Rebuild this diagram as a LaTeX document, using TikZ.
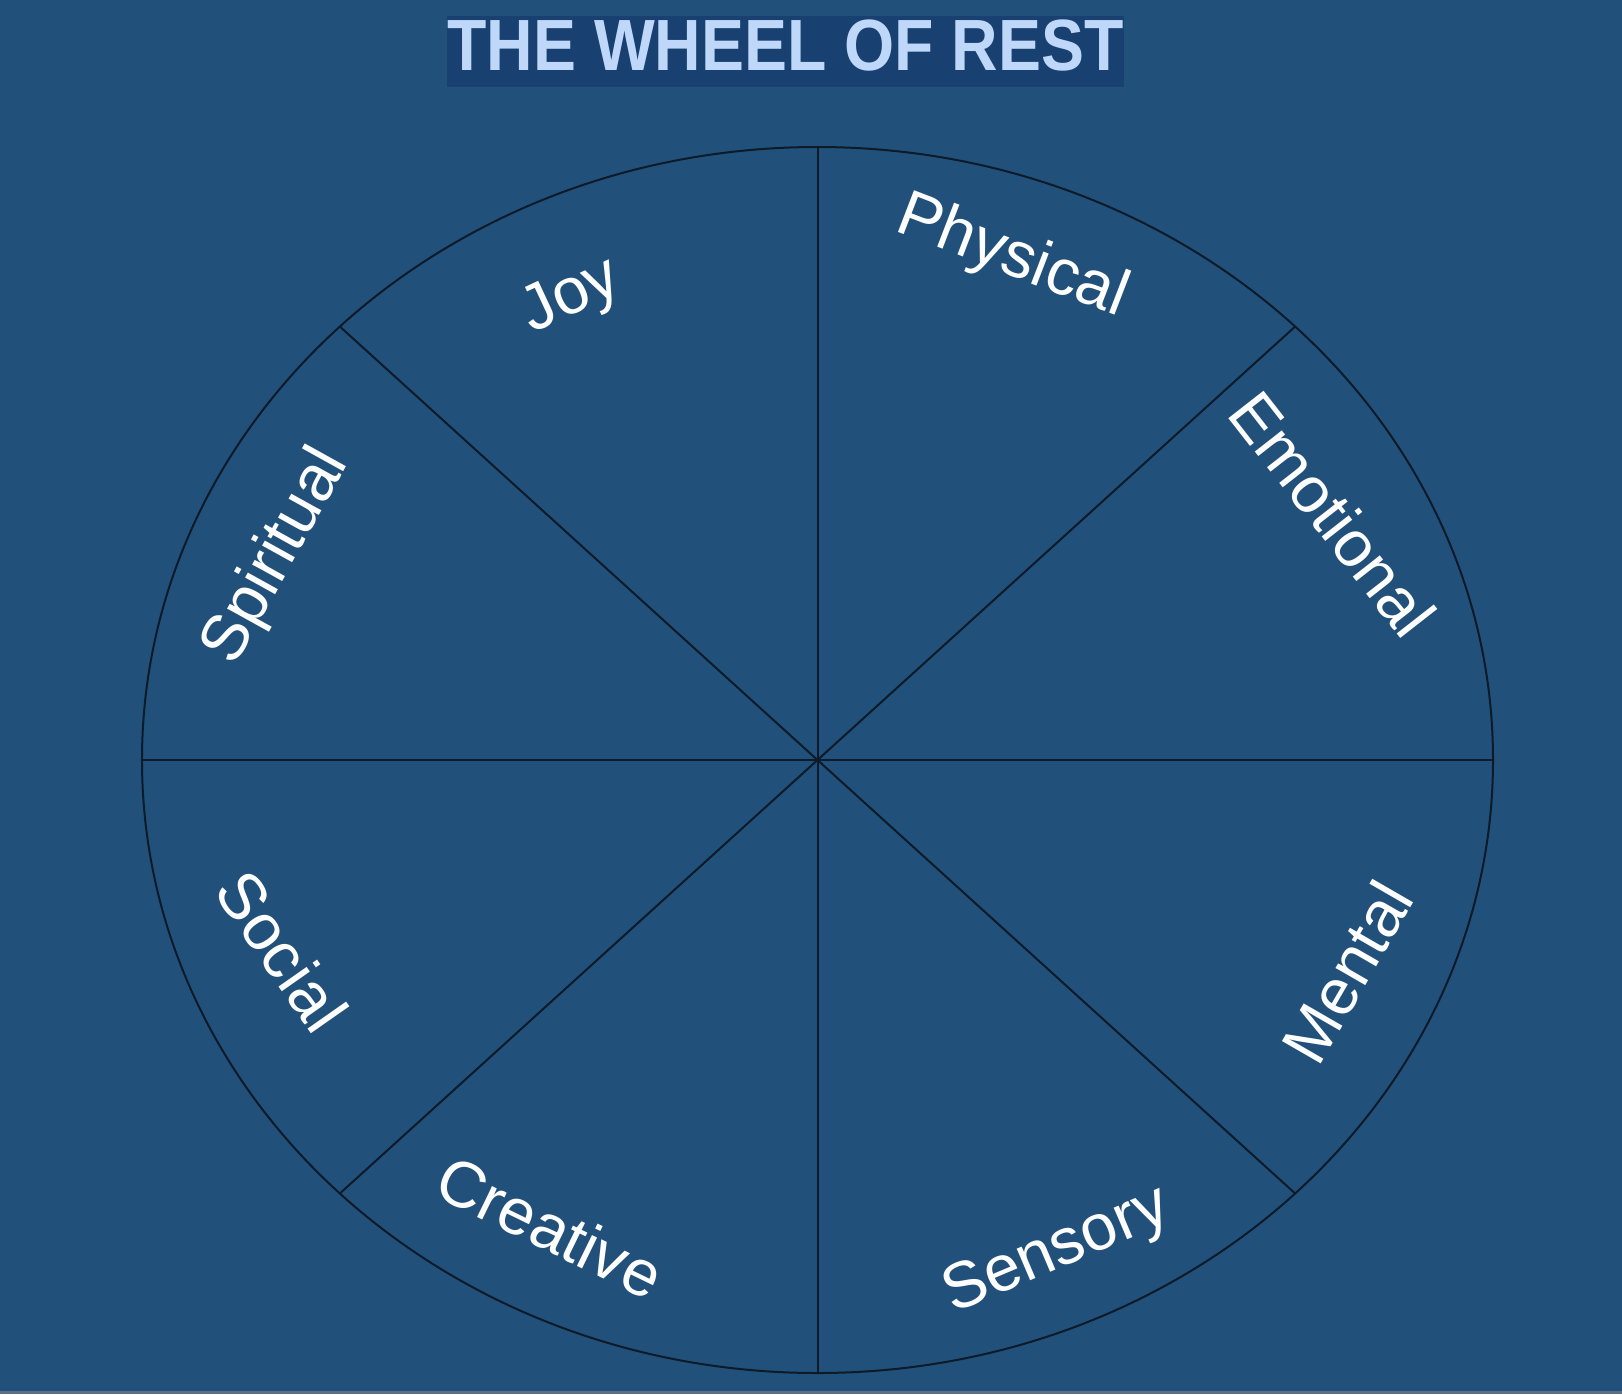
\documentclass[tikz,border=0pt]{standalone}
\usepackage{fontspec}
\setmainfont{Liberation Sans}
\usetikzlibrary{calc}
\definecolor{bgc}{HTML}{21517A}
\definecolor{titlebox}{HTML}{184172}
\definecolor{titletxt}{HTML}{BFD8FA}
\definecolor{linec}{HTML}{0C1A2A}
\definecolor{edgec}{HTML}{5A6E85}
\begin{document}
\begin{tikzpicture}[x=0.5pt,y=-0.5pt,
  spoke/.style={draw=linec,line width=1pt},
  lbl/.style={text=white,inner sep=0pt,font=\fontsize{32.5}{37}\selectfont},
  ttl/.style={text=titletxt,inner sep=0pt,anchor=base,font=\fontsize{36.3}{40}\selectfont\bfseries,xscale=0.887}]
\useasboundingbox (0,0) rectangle (1622,1394);
\fill[bgc] (0,0) rectangle (1622,1394);
\fill[edgec] (0,1391) rectangle (1622,1394);
% title
\fill[titlebox] (447,16) rectangle (1124,87);
\node[ttl] (title) at (785.5,70) {THE WHEEL OF REST};
% wheel
\coordinate (c) at (817.5,760);
\draw[spoke] (c) ellipse [x radius=675.5, y radius=613];
\foreach \a/\n in {0/e0,45/e1,90/e2,135/e3,180/e4,225/e5,270/e6,315/e7}{
  \coordinate (\n) at ($(c)+({675.5*cos(\a)},{-613*sin(\a)})$);
}
\foreach \n in {e0,e1,e2,e3,e4,e5,e6,e7}{
  \draw[spoke] (c) -- (\n);
}
% labels
\node[lbl,rotate=-21] (physical) at (1012,258) {Physical};
\node[lbl,rotate=-52] (emotional) at (1333,514) {Emotional};
\node[lbl,rotate=60] (mental) at (1347,972) {Mental};
\node[lbl,rotate=23] (sensory) at (1057,1252) {Sensory};
\node[lbl,rotate=-26] (creative) at (550,1227) {Creative};
\node[lbl,rotate=-55] (social) at (282,951) {Social};
\node[lbl,rotate=61] (spiritual) at (277,557) {Spiritual};
\node[lbl,rotate=25] (joy) at (572,298) {Joy};
\end{tikzpicture}
\end{document}
